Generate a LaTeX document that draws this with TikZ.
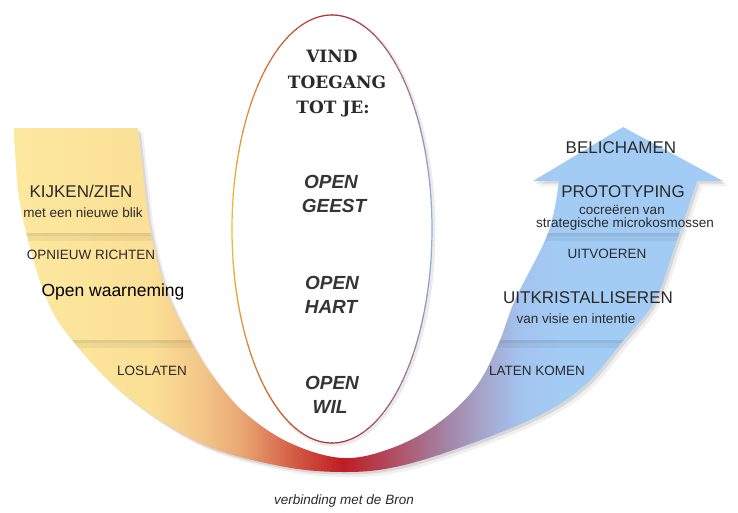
\documentclass[tikz,border=0pt]{standalone}
\usepackage{fontspec}
\setmainfont{Liberation Sans}
\newfontfamily\slabfont{DejaVu Serif}
\usetikzlibrary{calc}

\definecolor{txt}{HTML}{2A2A2A}
\definecolor{uyel}{HTML}{FDE9A0}
\definecolor{uyel2}{HTML}{FBE096}
\definecolor{uora}{HTML}{F3C688}
\definecolor{uora2}{HTML}{EAA874}
\definecolor{usal}{HTML}{D66248}
\definecolor{ured}{HTML}{BE1C24}
\definecolor{umau}{HTML}{B24A5E}
\definecolor{upur}{HTML}{A47E9E}
\definecolor{ulil}{HTML}{A5A3C8}
\definecolor{ublu}{HTML}{A3C3EE}
\definecolor{ublu2}{HTML}{A3CCF5}
\definecolor{ered}{HTML}{B02A35}
\definecolor{eyel}{HTML}{F2C230}
\definecolor{eblu}{HTML}{8FB4E8}

% colour of the band, left to right (25bp = left edge, 75bp = right edge)
\pgfdeclarehorizontalshading{ushade}{100bp}{color(0bp)=(uyel); color(25bp)=(uyel);
  color(35.2bp)=(uyel2); color(38.6bp)=(uora); color(41.3bp)=(uora2);
  color(44.6bp)=(usal); color(48.2bp)=(ured); color(51.4bp)=(umau);
  color(54.8bp)=(upur); color(57.5bp)=(ulil); color(60.2bp)=(ublu);
  color(62.9bp)=(ublu2); color(75bp)=(ublu2); color(100bp)=(ublu2)}

\def\ushape{(14,128) -- (138,128)
  -- plot[smooth, tension=0.6] coordinates {(138,128) (145,190) (151,233) (166,290)
     (190,340) (214,378) (245,413) (290,443) (343,458) (392,448) (437,424) (475,388)
     (498,345) (515,300) (548,233) (559,181)}
  -- (533,181) -- (623,127) -- (723,181) -- (697,181)
  -- plot[smooth, tension=0.6] coordinates {(697,181) (677,240) (655,300) (622,342)
     (585,385) (540,415) (470,444) (400,466) (345,472) (280,466) (200,443) (125,395)
     (72,340) (47,300) (28,240) (18,190) (14,128)}
  -- cycle}

\tikzset{
  small/.style={anchor=base, inner sep=0pt, text=txt, font=\fontsize{13.5}{14}\selectfont},
  large/.style={anchor=base, inner sep=0pt, text=txt, font=\fontsize{17}{18}\selectfont},
  open/.style={anchor=base, inner sep=0pt, text=txt!95, font=\fontsize{19}{20}\selectfont\bfseries\itshape},
  vind/.style={anchor=base, inner sep=0pt, text=txt, font=\fontsize{17}{18}\slabfont\bfseries},
}

\begin{document}
\begin{tikzpicture}[x=1pt,y=-1pt]
  \useasboundingbox (0,0) rectangle (738,512);
  % band with arrow
  \fill[black, opacity=0.06, shift={(5,5)}] \ushape;
  \fill[black, opacity=0.10, shift={(2.5,2.5)}] \ushape;
  \begin{scope}
    \clip \ushape;
    \shade[shading=ushade] (0,0) rectangle (738,512);
    \foreach \y in {233,340} {
      \fill[black, opacity=0.10] (0,\y) rectangle (738,\y+3);
      \fill[black, opacity=0.05] (0,\y+3) rectangle (738,\y+8);
    }
  \end{scope}
  % ellipse
  \coordinate (E) at (332,229);
  \fill[black, opacity=0.08] (333.5,230.5) ellipse [x radius=102, y radius=216];
  \fill[white] (E) ellipse [x radius=100, y radius=214];
  \foreach \a in {0,3,...,357} {
    \pgfmathsetmacro\m{\a+1.5}
    \pgfmathtruncatemacro\isleft{and(\m>90,\m<270)}
    \pgfmathtruncatemacro\pr{ifthenelse(\isleft==1, abs(\m-180)/0.9, min(\m,360-\m)/0.9)}
    \ifnum\isleft=1 \colorlet{ec}{ered!\pr!eyel}\else\colorlet{ec}{ered!\pr!eblu}\fi
    \draw[ec, line width=1.2] plot[domain=\a:\a+3.3, samples=3] ({332+100*cos(\x)},{229+214*sin(\x)});
  }

  % inside the ellipse
  \node[vind] (vind) at (332,62) {VIND};
  \node[vind] (toeg) at (337,88) {TOEGANG};
  \node[vind] (totje) at (333,113) {TOT JE:};
  \node[open] (o1) at (331,188) {OPEN};
  \node[open] (geest) at (334,212) {GEEST};
  \node[open] (o2) at (332,289) {OPEN};
  \node[open] (hart) at (331,313) {HART};
  \node[open] (o3) at (332,389) {OPEN};
  \node[open] (wil) at (330,413) {WIL};

  % left band
  \node[large] (kijk) at (81,197) {KIJKEN/ZIEN};
  \node[small] (blik) at (83,217) {met een nieuwe blik};
  \node[small] (richt) at (91,259) {OPNIEUW RICHTEN};
  \node[anchor=base, inner sep=0pt, font=\fontsize{17.5}{18}\selectfont] (waarn) at (113,296) {Open waarneming};
  \node[small] (los) at (152,375) {LOSLATEN};

  % bottom
  \node[small, font=\fontsize{13.5}{14}\selectfont\itshape] (bron) at (344,504) {verbinding met de Bron};

  % right band
  \node[large] (belich) at (621,153) {BELICHAMEN};
  \node[large] (proto) at (623,197) {PROTOTYPING};
  \node[small] (cocr) at (622,214) {cocreëren van};
  \node[small] (strat) at (625,227) {strategische microkosmossen};
  \node[small] (uitv) at (607,258) {UITVOEREN};
  \node[large] (uitkr) at (588,303) {UITKRISTALLISEREN};
  \node[small] (visie) at (576,323) {van visie en intentie};
  \node[small] (laten) at (537,375) {LATEN KOMEN};
\end{tikzpicture}
\end{document}
